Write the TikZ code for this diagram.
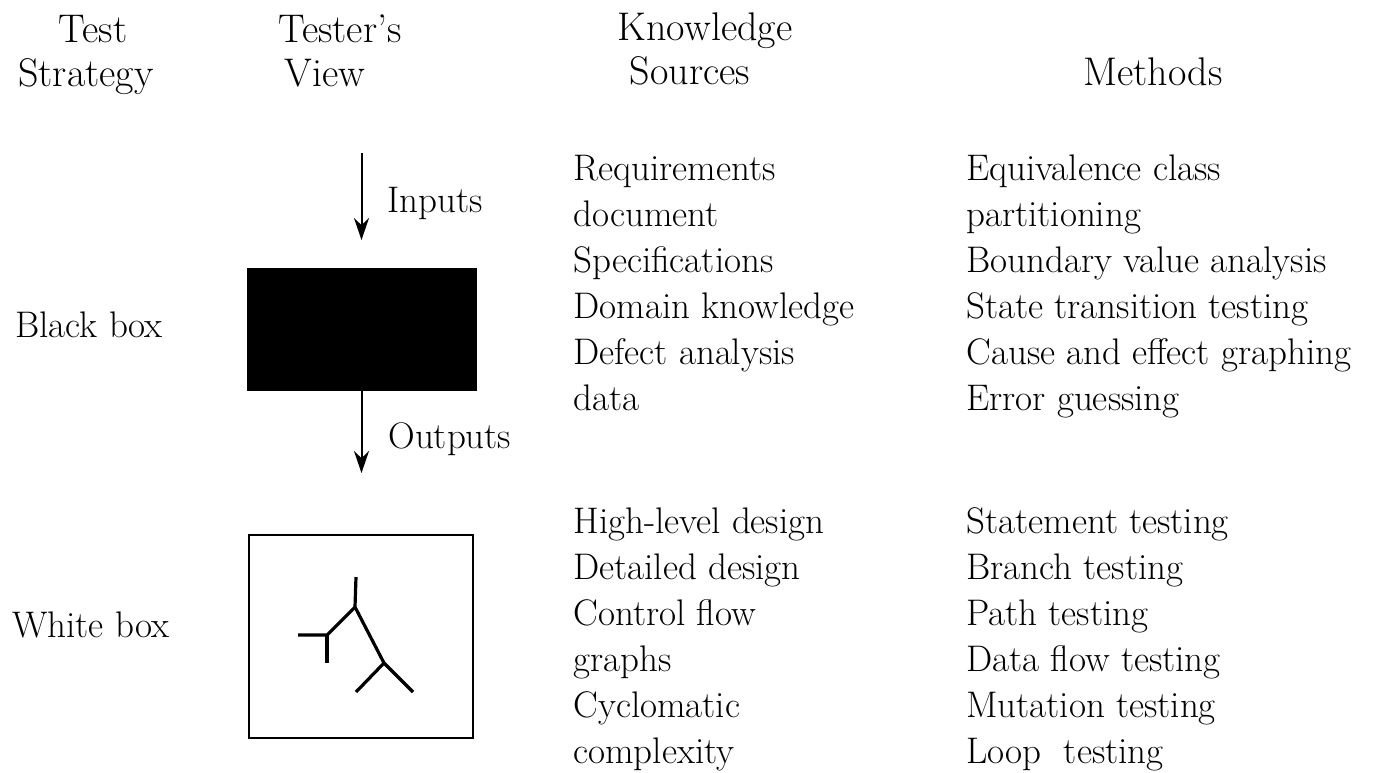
\documentclass[tikz,border=0pt]{standalone}
\usetikzlibrary{arrows.meta}
\begin{document}
\begin{tikzpicture}[x=0.5pt,y=-0.5pt,
  txt/.style={inner sep=0pt,anchor=base west,font=\fontsize{18.5}{23}\selectfont},
  hdr/.style={inner sep=0pt,anchor=base,font=\fontsize{20}{24}\selectfont},
  arr/.style={line width=1pt,-{Stealth[length=11pt,width=7.5pt]}},
  tree/.style={line width=1.6pt}]
\useasboundingbox (0,0) rectangle (1398,772);
% headers
\node[hdr] (h1a) at (93,42) {Test};
\node[hdr] (h1b) at (86,86) {Strategy};
\node[hdr] (h2a) at (340,42) {Tester's};
\node[hdr] (h2b) at (325,86) {View};
\node[hdr] (h3a) at (705,40) {Knowledge};
\node[hdr] (h3b) at (690,84) {Sources};
\node[hdr] (h4) at (1153,85) {Methods};
% row labels
\node[txt] (lbb) at (15,337) {Black box};
\node[txt] (lwb) at (12,637) {White box};
% black box
\node[fill=black,draw=black,minimum width=114.5pt,minimum height=61pt,inner sep=0pt] (bb) at (361.5,329) {};
\coordinate (inTop) at (361.5,153);
\coordinate (inTip) at (361.5,240);
\coordinate (outTip) at (361.5,473);
\draw[arr] (inTop) -- (inTip);
\draw[arr] (bb.south) -- (outTip);
\node[txt] (lin) at (387,212) {Inputs};
\node[txt] (lout) at (388,448) {Outputs};
% white box
\node[draw=black,line width=1.2pt,minimum width=112pt,minimum height=101.5pt,inner sep=0pt] (wb) at (361,636.5) {};
\coordinate (t0) at (356,577);
\coordinate (t1) at (355,607);
\coordinate (t2) at (327,635);
\coordinate (t3) at (298,635);
\coordinate (t4) at (327,663);
\coordinate (t5) at (384,663);
\coordinate (t6) at (356,692);
\coordinate (t7) at (413,692);
\draw[tree] (t0) -- (t1) -- (t5) -- (t7);
\draw[tree] (t1) -- (t2) -- (t3);
\draw[tree] (t2) -- (t4);
\draw[tree] (t5) -- (t6);
% knowledge sources
\foreach \t [count=\i] in {Requirements,document,Specifications,Domain knowledge,Defect analysis,data}
  \node[txt] (ksa\i) at (573,{180+46*(\i-1)}) {\t};
\foreach \t [count=\i] in {High-level design,Detailed design,Control flow,graphs,Cyclomatic,complexity}
  \node[txt] (ksb\i) at (573,{533+46*(\i-1)}) {\t};
% methods
\foreach \t [count=\i] in {Equivalence class,partitioning,Boundary value analysis,State transition testing,Cause and effect graphing,Error guessing}
  \node[txt] (ma\i) at (966,{180+46*(\i-1)}) {\t};
\foreach \t [count=\i] in {Statement testing,Branch testing,Path testing,Data flow testing,Mutation testing,Loop~ testing}
  \node[txt] (mb\i) at (966,{533+46*(\i-1)}) {\t};
\end{tikzpicture}
\end{document}
